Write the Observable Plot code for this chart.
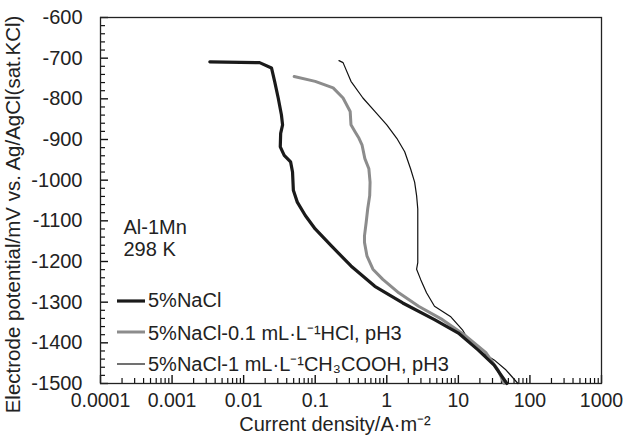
<!DOCTYPE html>
<html><head><meta charset="utf-8">
<script src="https://cdn.jsdelivr.net/npm/d3@7"></script>
<script src="https://cdn.jsdelivr.net/npm/@observablehq/plot@0.6"></script>
<style>
body{margin:0;background:#fff;font-family:"Liberation Sans",Arial,sans-serif;}
#wrap{position:relative;width:623px;height:441px;}
#legend{position:absolute;left:117px;top:285px;font-size:20px;color:#222;}
.row{height:31.5px;display:flex;align-items:center;white-space:nowrap;}
.row svg{margin-right:3px;}
</style></head><body><div id="wrap"></div>
<script>
// Series names
const seriesNames = ["5%NaCl", "5%NaCl-0.1 mL·L⁻¹HCl, pH3", "5%NaCl-1 mL·L⁻¹CH₃COOH, pH3"];

// 5%NaCl
const naclCurrent = [0.00337, 0.0167, 0.0245, 0.0271, 0.0304, 0.0337, 0.035, 0.0329, 0.0325, 0.0369, 0.0453, 0.0482, 0.0495, 0.0562, 0.0727, 0.1, 0.167, 0.316, 0.681, 1.67, 4.64, 10, 19, 31.6, 47.6];
const naclPotential = [-709, -711, -724, -757, -798, -839, -864, -885, -918, -939, -955, -980, -1025, -1054, -1087, -1120, -1161, -1211, -1261, -1302, -1343, -1376, -1418, -1455, -1500];

// 5%NaCl-0.1 mL/L HCl, pH3
const hclCurrent = [0.0508, 0.1, 0.178, 0.245, 0.308, 0.316, 0.36, 0.409, 0.452, 0.494, 0.562, 0.584, 0.577, 0.541, 0.515, 0.488, 0.488, 0.528, 0.64, 0.88, 1.47, 2.78, 6.0, 12.9, 24.5, 35.9, 43.5];
const hclPotential = [-745, -757, -773, -798, -831, -864, -881, -897, -914, -947, -972, -1005, -1038, -1071, -1104, -1137, -1153, -1186, -1219, -1244, -1277, -1310, -1343, -1384, -1425, -1467, -1500];

// 5%NaCl-1 mL/L CH3COOH, pH3
const aceticCurrent = [0.215, 0.245, 0.316, 0.464, 0.681, 1.0, 1.38, 1.78, 2.15, 2.45, 2.61, 2.71, 2.71, 2.71, 2.61, 2.97, 3.59, 4.64, 7.74, 11.4, 14.7, 19, 31.6, 46.4, 68];
const aceticPotential = [-706, -711, -757, -798, -831, -864, -897, -930, -972, -1005, -1038, -1071, -1137, -1203, -1219, -1244, -1277, -1310, -1335, -1368, -1401, -1418, -1442, -1467, -1500];

// Ticks
const xMajorTicks = [0.0001, 0.001, 0.01, 0.1, 1, 10, 100, 1000];
const xTickLabels = ["0.0001", "0.001", "0.01", "0.1", "1", "10", "100", "1000"];
const yMajorTicks = [-600, -700, -800, -900, -1000, -1100, -1200, -1300, -1400, -1500];
const yMinorStep = 20;
const annotationLines = ["Al-1Mn", "298 K"];

const xMinorTicks = [];
for (let k = -4; k < 3; k++) for (let m = 2; m <= 9; m++) xMinorTicks.push(m * Math.pow(10, k));
const yMinorTicks = d3.range(-1500, -599, yMinorStep).filter(v => v % 100 !== 0);

const toRows = (xs, ys, s) => xs.map((x, i) => ({current: x, potential: ys[i], series: s}));
const nacl = toRows(naclCurrent, naclPotential, seriesNames[0]);
const hcl = toRows(hclCurrent, hclPotential, seriesNames[1]);
const acetic = toRows(aceticCurrent, aceticPotential, seriesNames[2]);

const font = "Liberation Sans, Arial, sans-serif";
const ink = "#222";
const W = 623, H = 441, mL = 100, mR = 22, mT = 17, mB = 58;
const plotW = W - mL - mR, plotH = H - mT - mB;
const xMin = xMajorTicks[0], xMax = xMajorTicks[xMajorTicks.length - 1];
const yMin = yMajorTicks[yMajorTicks.length - 1], yMax = yMajorTicks[0];
// convert a tick length in pixels into data units along each scale
const yLen = px => px / plotH * (yMax - yMin);
const xAt = px => xMin * Math.pow(xMax / xMin, px / plotW);

const chart = Plot.plot({
  width: W,
  height: H,
  marginLeft: mL,
  marginRight: mR,
  marginTop: mT,
  marginBottom: mB,
  style: {fontFamily: font, fontSize: "20px", color: ink, background: "#fff"},
  x: {type: "log", domain: [xMin, xMax]},
  y: {domain: [yMin, yMax]},
  marks: [
    // tick labels
    Plot.axisX(xMajorTicks, {tickSize: 0, tickPadding: 10, tickFormat: d => xTickLabels[xMajorTicks.indexOf(d)], label: null, fontSize: 19.5}),
    Plot.axisY(yMajorTicks, {tickSize: 0, tickPadding: 18, tickFormat: d => String(d), label: null, fontSize: 20}),
    // inward ticks
    Plot.ruleX(xMajorTicks, {x: d => d, y1: yMin, y2: yMin + yLen(8), stroke: "#111", strokeWidth: 1.4}),
    Plot.ruleX(xMinorTicks, {x: d => d, y1: yMin, y2: yMin + yLen(5), stroke: "#111", strokeWidth: 1.2}),
    Plot.ruleY(yMajorTicks, {y: d => d, x1: xMin, x2: xAt(8), stroke: "#111", strokeWidth: 1.4}),
    Plot.ruleY(yMinorTicks, {y: d => d, x1: xMin, x2: xAt(5), stroke: "#111", strokeWidth: 1.2}),
    Plot.frame({stroke: ink, strokeWidth: 1.3}),
    Plot.line(acetic, {x: "current", y: "potential", stroke: "#111", strokeWidth: 1.2}),
    Plot.line(hcl, {x: "current", y: "potential", stroke: "#8c8c8c", strokeWidth: 3}),
    Plot.line(nacl, {x: "current", y: "potential", stroke: "#1a1a1a", strokeWidth: 3.2}),
    // annotation
    Plot.text([annotationLines[0]], {frameAnchor: "top-left", text: d => d, dx: 23, dy: 202, fontSize: 20, textAnchor: "start", fill: ink}),
    Plot.text([annotationLines[1]], {frameAnchor: "top-left", text: d => d, dx: 23, dy: 224, fontSize: 20, textAnchor: "start", fill: ink}),
    // axis titles
    Plot.text(["Electrode potential/mV vs. Ag/AgCl(sat.KCl)"], {frameAnchor: "left", text: d => d, rotate: -90, textAnchor: "middle", dx: -87, dy: 14, fontSize: 20.5, fill: ink}),
    Plot.text(["Current density/A·m⁻²"], {frameAnchor: "bottom", text: d => d, textAnchor: "middle", dx: -16, dy: 47, fontSize: 20, fill: ink})
  ]
});
document.getElementById("wrap").appendChild(chart);

// legend overlay
const legendStyles = [
  {stroke: "#1a1a1a", width: 3.2},
  {stroke: "#8c8c8c", width: 3},
  {stroke: "#111", width: 1.2}
];
const legend = d3.select("#wrap").append("div").attr("id", "legend");
seriesNames.forEach((name, i) => {
  const row = legend.append("div").attr("class", "row");
  const s = row.append("svg").attr("width", 28).attr("height", 10);
  s.append("line").attr("x1", 0).attr("x2", 28).attr("y1", 5).attr("y2", 5)
    .attr("stroke", legendStyles[i].stroke).attr("stroke-width", legendStyles[i].width);
  row.append("span").text(name);
});
</script></body></html>
